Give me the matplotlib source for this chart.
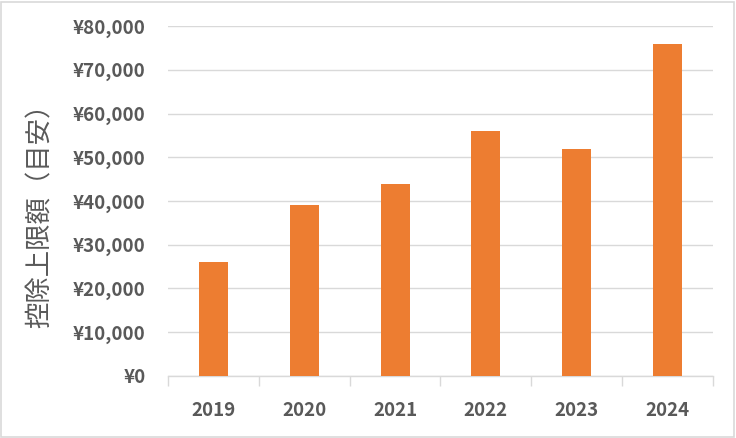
import matplotlib.pyplot as plt
import numpy as np
from matplotlib.ticker import FuncFormatter, FixedLocator
from matplotlib.patches import Rectangle

plt.rcParams['font.family'] = ['Noto Sans CJK JP', 'DejaVu Sans']

years = ["2019", "2020", "2021", "2022", "2023", "2024"]
limits = [26000, 39000, 44000, 56000, 52000, 76000]

text_color = "#595959"
grid_color = "#d9d9d9"
bar_color = "#ed7d31"

fig = plt.figure(figsize=(7.36, 4.38), dpi=100)
ax = fig.add_axes([0.228, 0.1416, 0.741, 0.799])

x = np.arange(len(years))
ax.bar(x, limits, width=0.32, color=bar_color, zorder=3)

ax.set_xlim(-0.5, len(years) - 0.5)
ax.set_ylim(0, 80000)
ax.set_yticks(np.arange(0, 80001, 10000))
ax.yaxis.set_major_formatter(FuncFormatter(lambda v, p: f"¥{int(v):,}"))
ax.grid(axis="y", color=grid_color, linewidth=1, zorder=0)

# category labels centred, tick marks on category boundaries
ax.set_xticks(x)
ax.set_xticklabels(years)
ax.xaxis.set_minor_locator(FixedLocator(np.arange(-0.5, len(years), 1)))
ax.tick_params(axis="x", which="major", length=0, pad=18,
               labelsize=13.5, labelcolor=text_color)
ax.tick_params(axis="x", which="minor", length=7, color=grid_color, width=1)
ax.tick_params(axis="y", length=0, pad=16, labelsize=13.5, labelcolor=text_color)
for lab in ax.get_xticklabels() + ax.get_yticklabels():
    lab.set_fontweight("bold")

for s in ["top", "right", "left"]:
    ax.spines[s].set_visible(False)
ax.spines["bottom"].set_color(grid_color)
ax.spines["bottom"].set_linewidth(1)

fig.text(0.054, 0.523, "控除上限額（目安）", rotation=90, ha="center", va="center",
         fontsize=19, color=text_color)

# chart area border
fig.patches.append(Rectangle((0.002, 0.003), 0.995, 0.993, transform=fig.transFigure,
                             fill=False, edgecolor="#d9d9d9", linewidth=1.2))

fig.savefig("out.png", dpi=100)
